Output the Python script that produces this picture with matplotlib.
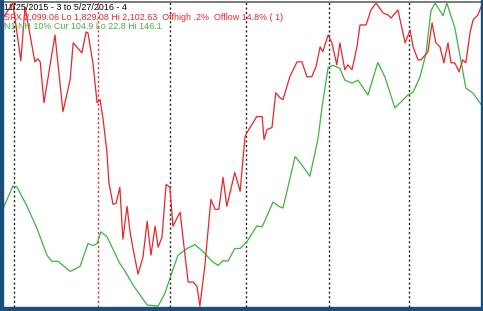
import matplotlib

matplotlib.use("Agg")
import matplotlib.pyplot as plt
from matplotlib.patches import Rectangle

W, H = 483, 311

# trading days since 11/25/2015 (0) through 5/27/2016 (126)
spx_day = [0, 2.6, 4.7, 5.8, 8.4, 9.2, 9.8, 10.8, 13.7, 15.8, 17.7, 18.5, 20.8, 21.9,
           22.4, 23.7, 24.8, 25.6, 26.4, 27.4, 27.9, 29.0, 29.8, 30.8, 31.6, 32.7, 33.5,
           34.3, 35.6, 36.9, 38.0, 39.0, 40.1, 40.9, 41.9, 43.0, 44.0, 44.8, 46.1, 46.7,
           47.4, 48.8, 50.1, 51.1, 51.9, 53.2, 54.8, 55.9, 56.9, 58.0, 59.0, 61.1, 62.5,
           63.8, 64.3, 66.9, 68.3, 68.8, 69.6, 70.9, 71.9, 73.0, 73.8, 75.6, 77.5, 78.8,
           80.1, 81.4, 82.5, 83.6, 84.3, 85.7, 86.7, 88.0, 88.8, 90.1, 90.9, 92.0, 93.3,
           94.1, 95.7, 97.0, 98.3, 100.2, 101.5, 102.3, 104.1, 106.0, 107.3, 108.1, 109.4,
           110.2, 112.0, 113.1, 114.1, 115.2, 116.2, 117.3, 118.1, 119.1, 120.2, 121.2,
           122.0, 123.1, 123.9, 125.2, 126.0]
spx_val = [2089.1, 2102.6, 2050.4, 2099.0, 2049.5, 2052.2, 2049.5, 2012.6, 2073.8, 2004.5,
           2033.4, 2066.6, 2057.6, 2076.5, 2075.6, 2048.6, 2012.6, 2015.3, 1997.3, 1967.7,
           1940.6, 1920.9, 1921.8, 1936.2, 1889.4, 1919.1, 1895.7, 1880.4, 1857.9, 1873.2,
           1905.6, 1875.0, 1901.1, 1882.2, 1891.2, 1938.9, 1936.2, 1901.1, 1910.1, 1913.7,
           1892.1, 1850.7, 1850.7, 1847.1, 1829.08, 1865.1, 1925.4, 1916.4, 1916.4, 1945.2,
           1919.1, 1949.7, 1932.6, 1982.1, 1985.7, 2000.1, 2000.1, 1979.4, 1988.4, 1990.2,
           2021.6, 2017.1, 2015.3, 2036.0, 2049.5, 2049.5, 2036.0, 2036.0, 2045.0, 2063.0,
           2058.5, 2073.8, 2066.6, 2046.8, 2066.6, 2042.3, 2046.8, 2042.3, 2063.0, 2082.8,
           2082.8, 2096.3, 2102.63, 2093.6, 2091.8, 2089.1, 2096.3, 2066.6, 2078.3, 2063.0,
           2051.3, 2051.3, 2058.5, 2084.6, 2066.6, 2063.0, 2048.6, 2066.6, 2048.6, 2048.6,
           2040.5, 2051.3, 2048.6, 2075.6, 2087.3, 2091.8, 2099.06]

nh_day = [0, 2.6, 3.7, 6.3, 9.0, 11.6, 12.9, 14.5, 17.7, 20.3, 22.4, 23.7, 24.8, 25.8,
          27.4, 30.8, 32.2, 34.3, 38.0, 40.9, 42.7, 44.0, 46.1, 48.5, 50.6, 52.7, 55.1,
          56.7, 58.0, 59.3, 61.1, 62.5, 64.3, 66.9, 68.3, 71.2, 73.0, 73.8, 75.6, 77.0,
          78.3, 80.9, 83.0, 84.1, 85.7, 87.0, 88.8, 90.1, 92.0, 93.6, 96.2, 98.8, 100.7,
          103.3, 105.4, 106.7, 108.1, 109.9, 111.5, 112.8, 113.9, 116.0, 117.0, 119.1,
          120.7, 122.0, 123.9, 126.0]
nh_val = [62.3, 71.6, 71.2, 63.5, 54.2, 43.4, 41.0, 41.0, 36.9, 38.9, 48.2, 47.4, 48.2,
          53.0, 51.0, 40.1, 36.9, 31.3, 23.2, 22.8, 28.0, 34.1, 43.4, 46.2, 47.8, 45.0,
          41.0, 39.3, 41.3, 41.0, 46.2, 46.2, 49.0, 55.4, 55.0, 65.1, 63.1, 62.7, 74.4,
          83.6, 81.2, 75.6, 90.5, 103.8, 119.9, 120.7, 119.5, 114.7, 113.5, 114.7, 108.6,
          121.9, 115.9, 103.4, 106.6, 108.6, 109.8, 115.9, 125.5, 142.9, 146.1, 140.9,
          146.1, 136.0, 122.7, 111.5, 109.4, 104.9]

month_starts = [3, 25, 44, 64, 86, 107]
year_start = 25

title = "11/25/2015 - 3 to 5/27/2016 - 4"
spx_label = "SPX 2,099.06 Lo 1,829.08 Hi 2,102.63  Offhigh .2%  Offlow 14.8% ( 1)"
nh_label = "N1 NH 10% Cur 104.9 Lo 22.8 Hi 146.1"

RED = "#e8262b"
GREEN = "#3fb33f"
BLUE = "#1d4f7c"

fig = plt.figure(figsize=(W / 100, H / 100), dpi=100, facecolor="white")
ax = fig.add_axes([3 / W, 4 / H, 478 / W, 305 / H])
ax2 = ax.twinx()

for d in month_starts:
    c = RED if d == year_start else "#222222"
    ax.axvline(d, color=c, lw=1.0, ls=(0, (1.5, 1.8)))

ax.plot(nh_day, nh_val, color=GREEN, lw=0.9)
ax2.plot(spx_day, spx_val, color=RED, lw=0.9)

ax.set_xlim(0, 126)
ax.set_ylim(22.4, 146.5)
ax2.set_ylim(1828.2, 2103.5)

for a in (ax, ax2):
    a.set_xticks([])
    a.set_yticks([])
    for side in ("left", "right", "bottom"):
        a.spines[side].set_visible(False)
    a.spines["top"].set_color("#7a7a7a")
    a.spines["top"].set_linewidth(1.2)
ax.set_facecolor("white")

# window border
fig.patches.append(Rectangle((0, 0), 3 / W, 1, transform=fig.transFigure, color=BLUE))
fig.patches.append(Rectangle((0, 0), 1, 4 / H, transform=fig.transFigure, color=BLUE))
fig.patches.append(Rectangle((481 / W, 0), 2 / W, 1, transform=fig.transFigure, color=BLUE))

font = dict(family="Liberation Sans", fontsize=6.4, va="center", ha="left")
fig.text(4 / W, 1 - 7.5 / H, title, color="black", **font)
fig.text(4 / W, 1 - 17.5 / H, spx_label, color=RED, **font)
fig.text(4 / W, 1 - 26.5 / H, nh_label, color=GREEN, **font)

fig.savefig("out.png", dpi=100, facecolor=fig.get_facecolor())
plt.close(fig)
